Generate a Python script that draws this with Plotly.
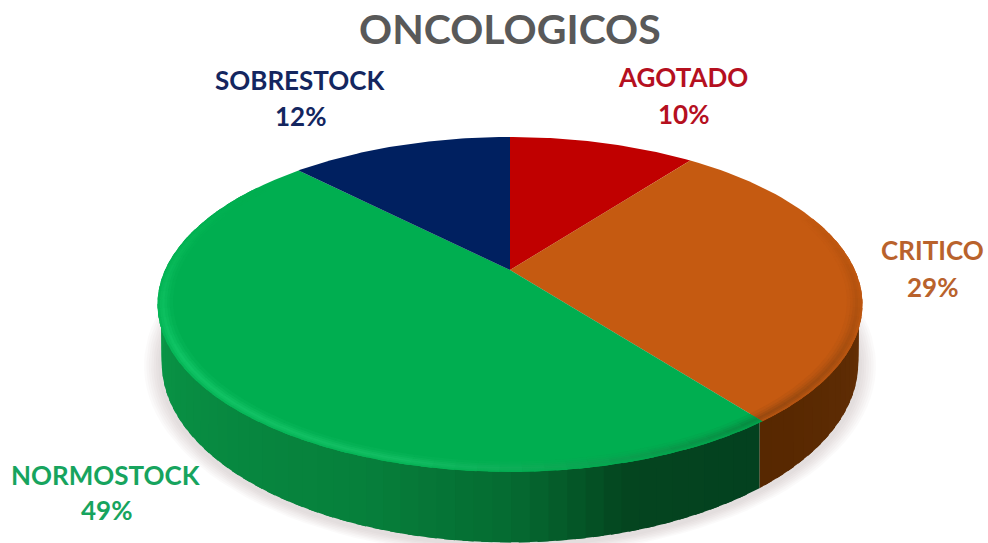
import math
import plotly.graph_objects as go

categories = ["AGOTADO", "CRITICO", "NORMOSTOCK", "SOBRESTOCK"]
values = [10.4, 29.1, 48.1, 12.4]
percent_labels = ["10%", "29%", "49%", "12%"]
face_colors = ["#c00000", "#c55a11", "#00ae50", "#002060"]
label_colors = ["#b5101f", "#b9622c", "#17a45e", "#14265f"]
label_pos = [(683, 77, 114), (932, 250, 287), (106, 475, 510), (300, 80, 116)]
title_text = "ONCOLOGICOS"

CX, CY, R, A, K, D = 510, 270, 345, 160.4, 0.2057, 56
FONT = "Lato"


def project(theta, r=1.0, drop=0.0, shrink=1.0, grow=0.0):
    u, v = r * math.sin(theta), r * math.cos(theta)
    w = 1 + K * v
    return (CX + R * u / w * shrink + grow * math.sin(theta),
            CY - A * v / w + drop / w + grow * math.cos(theta) * -0.6)


def hex2rgb(c):
    return tuple(int(c[i:i + 2], 16) for i in (1, 3, 5))


def mix(c1, c2, t):
    a, b = hex2rgb(c1), hex2rgb(c2)
    return "#%02x%02x%02x" % tuple(round(a[i] + (b[i] - a[i]) * t) for i in range(3))


def ramp(stops, x):
    if x <= stops[0][0]:
        return stops[0][1]
    for (x0, c0), (x1, c1) in zip(stops, stops[1:]):
        if x <= x1:
            return mix(c0, c1, (x - x0) / (x1 - x0))
    return stops[-1][1]


wall_ramp = {
    "CRITICO": [(90, "#6e3407"), (115, "#5e2c04"), (145, "#562700")],
    "NORMOSTOCK": [(140, "#03401f"), (165, "#04451f"), (180, "#056a31"), (200, "#067f3b"),
                   (235, "#088c42"), (270, "#0a9a49"), (290, "#0aa54e")],
}
bevel_ramp = {
    "CRITICO": [(60, "#c55a11"), (95, "#b5530f"), (140, "#9a4a10")],
    "NORMOSTOCK": [(140, "#078a40"), (170, "#0ba552"), (195, "#12bd62"), (240, "#10c465"),
                   (280, "#06b656"), (300, "#00ae50")],
}

fig = go.Figure()


def poly(pts, fill):
    xs = [p[0] for p in pts] + [pts[0][0]]
    ys = [p[1] for p in pts] + [pts[0][1]]
    fig.add_trace(go.Scatter(x=xs, y=ys, mode="lines", fill="toself", fillcolor=fill,
                             line=dict(color="rgba(0,0,0,0)", width=0),
                             hoverinfo="skip", showlegend=False))


TOTAL = sum(values)
bounds = [0]
for val in values:
    bounds.append(bounds[-1] + val / TOTAL * 2 * math.pi)

# soft shadow
for i in range(7):
    g = 18 - i * 2.4
    pts = [project(2 * math.pi * j / 140, drop=D + 2, shrink=0.988, grow=g) for j in range(141)]
    poly(pts, "rgba(150,135,135,0.04)")

OVER = math.radians(1.5)

# side wall
for cat, a0, a1 in zip(categories, bounds, bounds[1:]):
    if cat not in wall_ramp:
        continue
    n = max(2, int((a1 - a0) / math.radians(2.5)))
    for i in range(n):
        t0, t1 = a0 + (a1 - a0) * i / n, a0 + (a1 - a0) * (i + 1) / n
        t1 = min(a1, t1 + OVER)
        steps = [t0, (t0 + t1) / 2, t1]
        top = [project(t, r=0.99) for t in steps]
        bot = [project(t, drop=D, shrink=0.988) for t in reversed(steps)]
        poly(top + bot, ramp(wall_ramp[cat], math.degrees((t0 + t1) / 2)))

# top faces
for cat, col, a0, a1 in zip(categories, face_colors, bounds, bounds[1:]):
    n = 60
    pts = [(CX, CY)] + [project(a0 + (a1 - a0) * i / n) for i in range(n + 1)]
    poly(pts, col)

# bevel along the visible rim, painted from the outside in so the edges stay soft
RINGS = [(1.0, 0.45), (0.994, 0.8), (0.988, 1.0), (0.981, 0.75), (0.974, 0.45), (0.967, 0.2)]
INNER = 0.96
for cat, col, a0, a1 in zip(categories, face_colors, bounds, bounds[1:]):
    if cat not in bevel_ramp:
        continue
    start = max(a0, math.radians(70))
    end = min(a1, math.radians(305))
    n = max(2, int((end - start) / math.radians(3)))
    for i in range(n):
        t0, t1 = start + (end - start) * i / n, start + (end - start) * (i + 1) / n
        edge = ramp(bevel_ramp[cat], math.degrees((t0 + t1) / 2))
        t1 = min(end, t1 + OVER)
        for j, (ro, weight) in enumerate(RINGS):
            ri = RINGS[j + 1][0] if j + 1 < len(RINGS) else INNER
            steps = [t0, (t0 + t1) / 2, t1]
            pts = [project(t, r=ro) for t in steps] + [project(t, r=ri - 0.002) for t in reversed(steps)]
            poly(pts, mix(col, edge, weight))

anns = [dict(x=510, y=28, text=f"<b>{title_text}</b>", showarrow=False, xanchor="center", yanchor="middle",
             font=dict(family=FONT, size=41, color="#595959"))]
for cat, pct, col, (lx, y1, y2) in zip(categories, percent_labels, label_colors, label_pos):
    anns.append(dict(x=lx, y=y1, text=f"<b>{cat}</b>", showarrow=False, xanchor="center", yanchor="middle",
                     font=dict(family=FONT, size=26, color=col)))
    anns.append(dict(x=lx, y=y2, text=f"<b>{pct}</b>", showarrow=False, xanchor="center", yanchor="middle",
                     font=dict(family=FONT, size=26, color=col)))

fig.update_layout(
    width=988, height=543, margin=dict(l=0, r=0, t=0, b=0),
    paper_bgcolor="white", plot_bgcolor="white", showlegend=False, annotations=anns,
    xaxis=dict(range=[0, 988], visible=False, fixedrange=True),
    yaxis=dict(range=[543, 0], visible=False, fixedrange=True),
)
fig.write_html("out.html", config=dict(displayModeBar=False),
               post_script="document.body.style.margin='0';document.body.style.overflow='hidden';")
